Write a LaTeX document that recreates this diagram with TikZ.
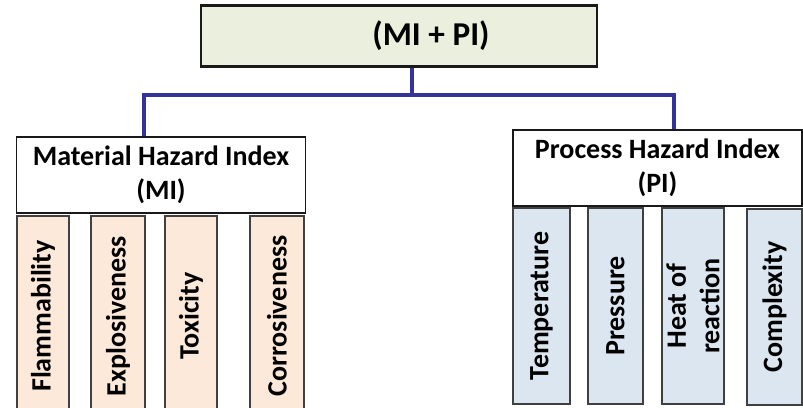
\documentclass[tikz,border=0pt]{standalone}
\usepackage{fontspec}
\setmainfont{Carlito}
\usetikzlibrary{calc}

\definecolor{topfill}{RGB}{235,240,222}
\definecolor{matfill}{RGB}{253,233,217}
\definecolor{procfill}{RGB}{220,230,241}
\definecolor{linkblue}{RGB}{51,51,153}

\begin{document}
\begin{tikzpicture}[x=0.75pt,y=-0.75pt,
    topbox/.style={draw=black!90, line width=1.6pt, fill=topfill, minimum width=396*0.75pt,
        minimum height=61*0.75pt, inner sep=0pt, font=\fontsize{25}{30}\selectfont\bfseries},
    headbox/.style={draw=black!90, line width=1.2pt, fill=white, minimum width=289*0.75pt,
        minimum height=76*0.75pt, inner sep=0pt, align=center,
        font=\fontsize{21}{25.5}\selectfont\bfseries},
    subbox/.style={draw=black!75, line width=0.9pt, rotate=90, inner sep=0pt, align=center,
        font=\fontsize{21}{25}\selectfont\bfseries},
    matbox/.style={subbox, fill=matfill, minimum width=200*0.75pt},
    procbox/.style={subbox, fill=procfill, minimum width=196*0.75pt},
    link/.style={draw=linkblue, line width=3pt}]
    \useasboundingbox (0,0) rectangle (803,407);

    % top level
    \node[topbox] (mipi) at (399,36) {\hspace*{48pt}(MI + PI)};

    % the two index headers
    \node[headbox] (mi) at (161,175) {Material Hazard Index\\(MI)};
    \node[headbox] (pi) at (657.5,168) {Process Hazard Index\\(PI)};

    % links
    \coordinate (hub) at (412,95);
    \draw[link] ($(mipi.south)+(13,0)$) -- (hub);
    \draw[link] (hub) -| ($(mi.north)+(-17,0)$);
    \draw[link] (hub) -| ($(pi.north)+(16.5,0)$);

    % material factors
    \node[matbox, minimum height=52*0.75pt] (flam) at (43,316) {Flammability};
    \node[matbox, minimum height=54*0.75pt] (expl) at (118,316) {Explosiveness};
    \node[matbox, minimum height=52*0.75pt] (toxi) at (191,316) {Toxicity};
    \node[matbox, minimum height=54*0.75pt] (corr) at (277,316) {Corrosiveness};

    % process factors
    \node[procbox, minimum height=57*0.75pt] (temp) at (541.5,306) {Temperature};
    \node[procbox, minimum height=55*0.75pt] (pres) at (615.5,306) {Pressure};
    \node[procbox, minimum height=62*0.75pt] (heat) at (693,306) {Heat of\\reaction};
    \node[procbox, minimum height=55*0.75pt] (cplx) at (774.5,307) {Complexity};
\end{tikzpicture}
\end{document}
